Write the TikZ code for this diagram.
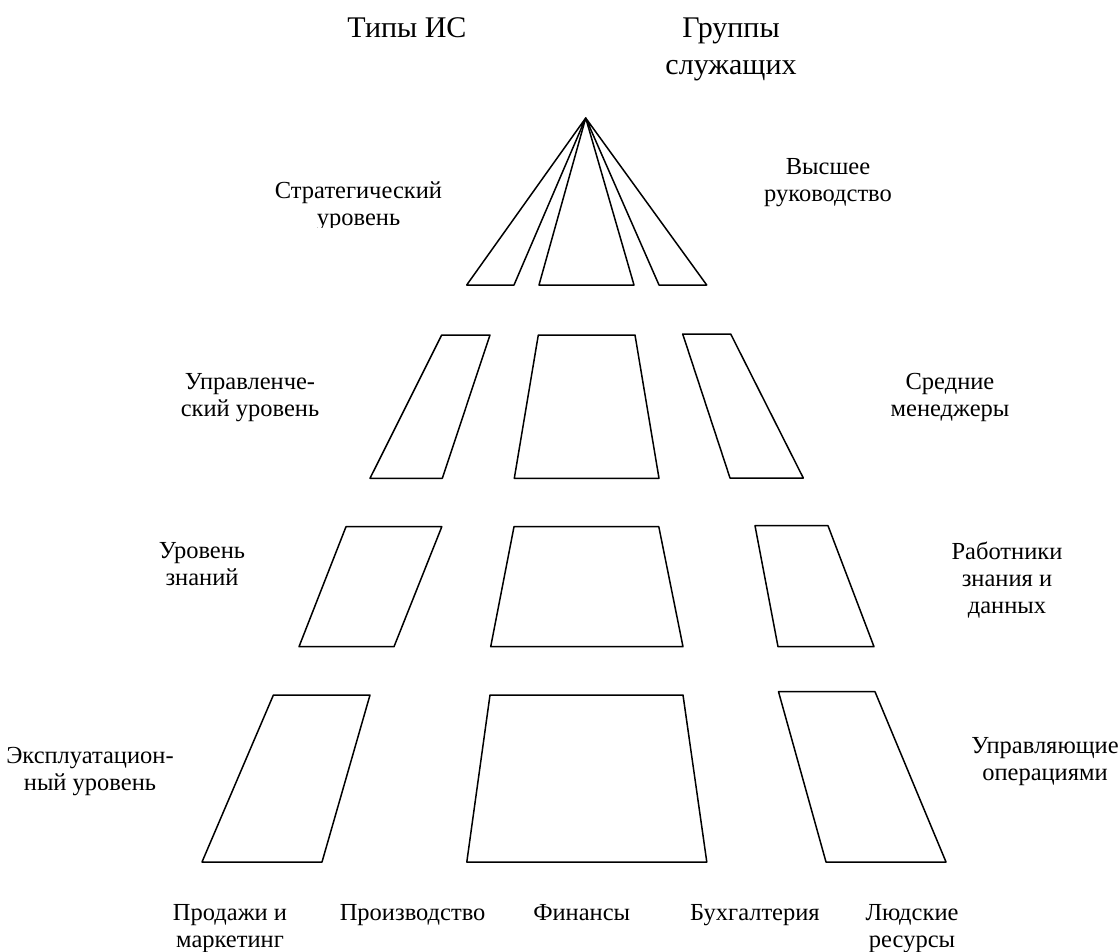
\documentclass[tikz,border=0pt]{standalone}
\usepackage{fontspec}
\setmainfont{Liberation Serif}
\begin{document}
\begin{tikzpicture}[x=1pt,y=-1pt,
  shp/.style={draw=black,line width=1.5pt,line join=round},
  lbl/.style={inner sep=0pt,anchor=base,align=center,font=\fontsize{24.5}{27}\selectfont},
  ttl/.style={inner sep=0pt,anchor=base,align=center,font=\fontsize{30}{37}\selectfont}]
\useasboundingbox (0,0) rectangle (1119,951);
% titles (anchor = baseline of last line)
\node[ttl] (t1) at (407,37) {Типы ИС};
\node[ttl] (t2) at (731,74) {Группы\\служащих};
% level 1
\coordinate (apex) at (585.7,118);
\draw[shp] (apex) -- (466.7,285) -- (514,285) -- cycle;
\draw[shp] (apex) -- (539,285) -- (634,285) -- cycle;
\draw[shp] (apex) -- (659,285) -- (706.7,285) -- cycle;
% level 2
\draw[shp] (441.7,335) -- (490,335) -- (442.3,478.3) -- (370,478.3) -- cycle;
\draw[shp] (538.3,335) -- (635,335) -- (659,478.3) -- (514.3,478.3) -- cycle;
\draw[shp] (682.7,334) -- (730.7,334) -- (803.3,478) -- (730,478) -- cycle;
% level 3
\draw[shp] (346,526.7) -- (441.8,526.7) -- (394,646.7) -- (299,646.7) -- cycle;
\draw[shp] (514,526.7) -- (658.8,526.7) -- (683,646.7) -- (490.7,646.7) -- cycle;
\draw[shp] (755,525.7) -- (828,525.7) -- (874,646.7) -- (778,646.7) -- cycle;
% level 4
\draw[shp] (273.4,695) -- (370,695) -- (322,862) -- (202,862) -- cycle;
\draw[shp] (490,695) -- (683,695) -- (706.8,862) -- (466.8,862) -- cycle;
\draw[shp] (778.5,691.7) -- (875,691.7) -- (946,862) -- (826,862) -- cycle;
% left labels
\begin{scope}
\clip (200,150) rectangle (520,227.5);
\node[lbl] (s1) at (358.5,225.5) {Стратегический\\уровень};
\end{scope}
\node[lbl] (s2) at (250,416.7) {Управленче-\\ский уровень};
\node[lbl] (s3) at (202,585) {Уровень\\знаний};
\node[lbl] (s4) at (90,790) {Эксплуатацион-\\ный уровень};
% right labels
\node[lbl] (g1) at (828,201.7) {Высшее\\руководство};
\node[lbl] (g2) at (950,416.7) {Средние\\менеджеры};
\node[lbl] (g3) at (1007,613) {Работники\\знания и\\данных};
\node[lbl] (g4) at (1045,780) {Управляющие\\операциями};
% bottom labels
\node[lbl] (b1) at (230,947) {Продажи и\\маркетинг};
\node[lbl] (b2) at (412.6,920) {Производство};
\node[lbl] (b3) at (581.7,920) {Финансы};
\node[lbl] (b4) at (755,920) {Бухгалтерия};
\node[lbl] (b5) at (912,947) {Людские\\ресурсы};
\end{tikzpicture}
\end{document}
